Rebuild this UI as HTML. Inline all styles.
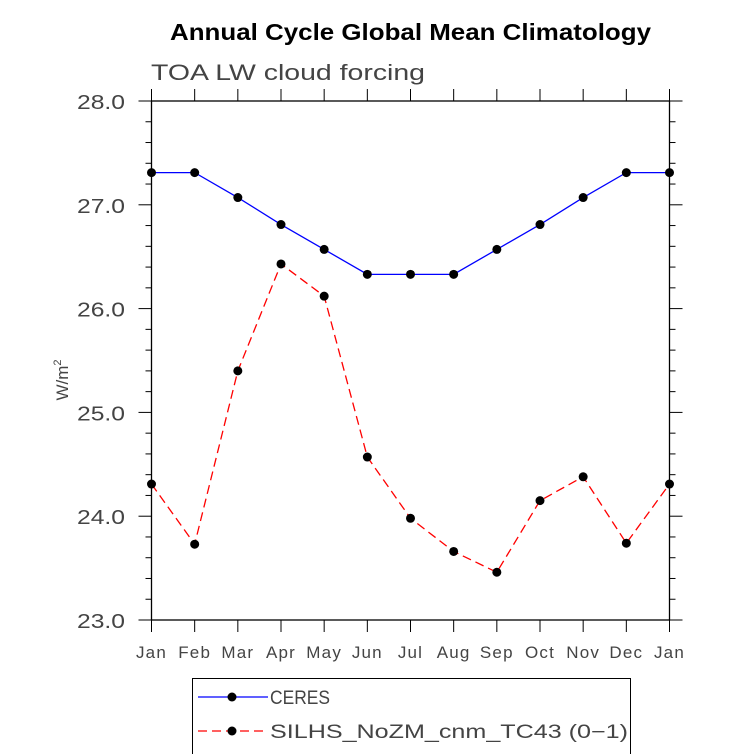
<!DOCTYPE html>
<html><head><meta charset="utf-8"><style>
html,body{margin:0;padding:0;background:#fff;}
svg{display:block;font-family:"Liberation Sans",sans-serif;}
</style></head><body>
<svg id="chart" width="733" height="754">
<text x="170" y="40" font-size="23" font-weight="bold" textLength="481" lengthAdjust="spacingAndGlyphs">Annual Cycle Global Mean Climatology</text>
<text x="151" y="80" font-size="22" fill="#444" textLength="274" lengthAdjust="spacingAndGlyphs">TOA LW cloud forcing</text>
<text transform="translate(68,380) rotate(-90)" text-anchor="middle" font-size="17" fill="#444">W/m<tspan dy="-7" font-size="11">2</tspan></text>
<g id="axes"></g>
<g id="series"></g>
<g>
<rect x="192.5" y="678.5" width="438" height="80" fill="none" stroke="#000" stroke-width="1"/>
<line x1="198" y1="697" x2="268" y2="697" stroke="#0000ff" stroke-width="1.3"/>
<circle cx="232" cy="697" r="4.5" fill="#000"/>
<text x="270" y="704" font-size="19" fill="#444" textLength="60" lengthAdjust="spacingAndGlyphs">CERES</text>
<line x1="198" y1="731" x2="268" y2="731" stroke="#ff0000" stroke-width="1.3" stroke-dasharray="9,5"/>
<circle cx="232" cy="731" r="4.5" fill="#000"/>
<text x="270" y="738" font-size="19" fill="#444" textLength="358" lengthAdjust="spacingAndGlyphs">SILHS_NoZM_cnm_TC43 (0−1)</text>
</g>
</svg>
<script>
const months=["Jan","Feb","Mar","Apr","May","Jun","Jul","Aug","Sep","Oct","Nov","Dec","Jan"];
const ceres=[27.31,27.31,27.07,26.81,26.57,26.33,26.33,26.33,26.57,26.81,27.07,27.31,27.31];
const silhs=[24.31,23.73,25.40,26.43,26.12,24.57,23.98,23.66,23.46,24.15,24.38,23.74,24.31];
const yTicks=[23.0,24.0,25.0,26.0,27.0,28.0];
const NS="http://www.w3.org/2000/svg";
const L=151.5,R=669.5,T=101,B=620,ymin=23,ymax=28;
const xs=i=>L+(R-L)*i/(months.length-1);
const ys=v=>B-(v-ymin)/(ymax-ymin)*(B-T);
function mk(tag,attrs,parent){const e=document.createElementNS(NS,tag);for(const k in attrs)e.setAttribute(k,attrs[k]);parent.appendChild(e);return e;}
const ax=document.getElementById('axes');
const frame=mk('rect',{x:L,y:T,width:R-L,height:B-T,fill:'none',stroke:'#000','stroke-width':1.3},ax);


for(let v=ymin;v<=ymax+1e-6;v+=0.2){
  const y=ys(v);const major=Math.abs(v-Math.round(v))<1e-6;const len=major?13:6;
  mk('line',{x1:L-len,y1:y,x2:L,y2:y,stroke:'#000','stroke-width':1},ax);
  mk('line',{x1:R,y1:y,x2:R+len,y2:y,stroke:'#000','stroke-width':1},ax);
}
yTicks.forEach(v=>{const t=mk('text',{x:77,y:ys(v)+8,'font-size':20,fill:'#444',textLength:48,lengthAdjust:'spacingAndGlyphs'},ax);t.textContent=v.toFixed(1);

});
months.forEach((m,i)=>{const x=xs(i);
  mk('line',{x1:x,y1:B,x2:x,y2:B+12,stroke:'#000','stroke-width':1},ax);
  mk('line',{x1:x,y1:T-12,x2:x,y2:T,stroke:'#000','stroke-width':1},ax);
  const t=mk('text',{x:x,y:B+38,'text-anchor':'middle','font-size':17,fill:'#444','letter-spacing':1.2},ax);t.textContent=m;
  
  });
const sg=document.getElementById('series');
function draw(vals,color,dash,name){
  const p=mk('polyline',{points:vals.map((v,i)=>xs(i)+','+ys(v)).join(' '),fill:'none',stroke:color,'stroke-width':1.3,'stroke-dasharray':dash},sg);
  
  
  vals.forEach((v,i)=>{const c=mk('circle',{cx:xs(i),cy:ys(v),r:4.5,fill:'#000'},sg);
    
    });
}
draw(ceres,'#0000ff','none','ceres');
draw(silhs,'#ff0000','9,5','silhs');
</script>
</body></html>
